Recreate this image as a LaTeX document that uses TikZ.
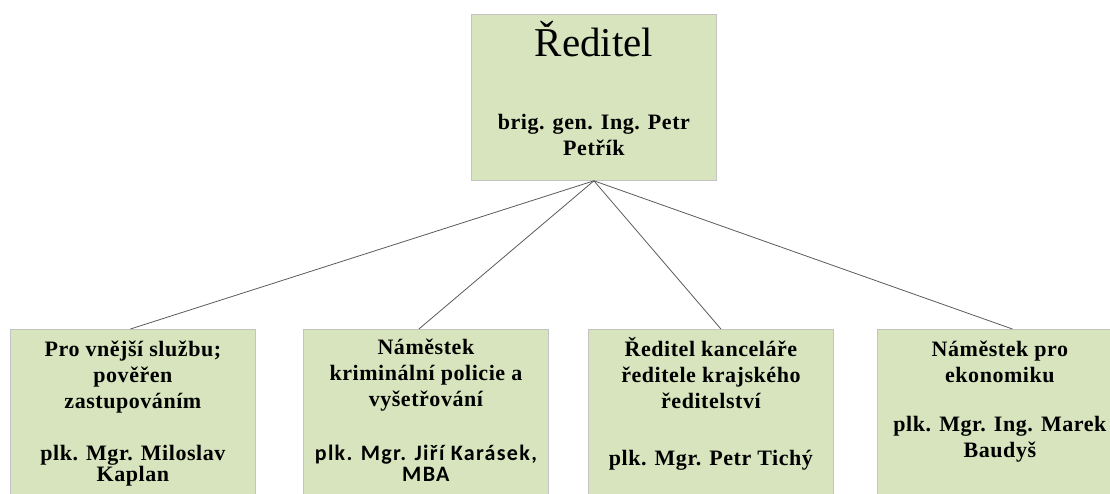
\documentclass[tikz,border=0pt]{standalone}
\usepackage{fontspec}
\setmainfont{Liberation Serif}
\newfontfamily\serifspaced{Liberation Serif}[LetterSpace=2.5]
\newfontfamily\sansspaced{Carlito}[LetterSpace=6.0]
\usetikzlibrary{positioning}
\definecolor{boxgreen}{RGB}{215,228,189}
\definecolor{boxborder}{RGB}{195,195,195}
\definecolor{linkgray}{RGB}{90,90,90}
\newcommand{\widthbox}{245pt}
\newcommand{\sizetext}{\fontsize{22}{26}\selectfont}
\tikzset{
    orgbox/.style={draw=boxborder, fill=boxgreen, line width=0.8pt, anchor=north west, minimum width=\widthbox, inner sep=0pt},
    headbox/.style={orgbox, minimum height=166pt},
    unitbox/.style={orgbox, minimum height=200pt},
    boxtext/.style={align=center, inner sep=0pt, font=\serifspaced\bfseries\sizetext},
    titletext/.style={inner sep=0pt, font=\fontsize{41}{41}\selectfont},
    link/.style={draw=linkgray, line width=0.8pt},
}

\begin{document}
\begin{tikzpicture}
    \useasboundingbox (0,0) rectangle (1110pt,-493pt);
    \clip (0,0) rectangle (1110pt,-493pt);

    \node[headbox] (director) at (471pt,-14pt) {};
    \node[unitbox] (unit-external) at (10pt,-329pt) {};
    \node[unitbox] (unit-criminal) at (303pt,-329pt) {};
    \node[unitbox] (unit-office) at (588pt,-329pt) {};
    \node[unitbox] (unit-economy) at (877pt,-329pt) {};

    \node[titletext, below=7pt of director.north] (director-title) {Ředitel};
    \node[boxtext, below=100pt of director.north] (director-name) {brig. gen. Ing. Petr\\ Petřík};

    \node[boxtext, below=12pt of unit-external.north] (external-text)
        {Pro vnější službu;\\ pověřen\\ zastupováním\\[26pt] plk. Mgr. Miloslav\\[-5pt] Kaplan};
    \node[boxtext, below=10pt of unit-criminal.north] (criminal-text)
        {Náměstek\\ kriminální policie a\\ vyšetřování\\[28pt] {\sansspaced plk. Mgr. Jiří Karásek,}\\[-5pt] {\sansspaced MBA}};
    \node[boxtext, below=8pt of unit-office.north] (office-text)
        {Ředitel kanceláře\\ ředitele krajského\\ ředitelství\\[31pt] plk. Mgr. Petr Tichý};
    \node[boxtext, below=12pt of unit-economy.north] (economy-text)
        {Náměstek pro\\ ekonomiku\\[23pt] plk. Mgr. Ing. Marek\\ Baudyš};

    \draw[link] (director.south) -- ([xshift=-2.5pt]unit-external.north);
    \draw[link] (director.south) -- ([xshift=-7pt]unit-criminal.north);
    \draw[link] (director.south) -- ([xshift=10pt]unit-office.north);
    \draw[link] (director.south) -- ([xshift=12.5pt]unit-economy.north);
\end{tikzpicture}
\end{document}
